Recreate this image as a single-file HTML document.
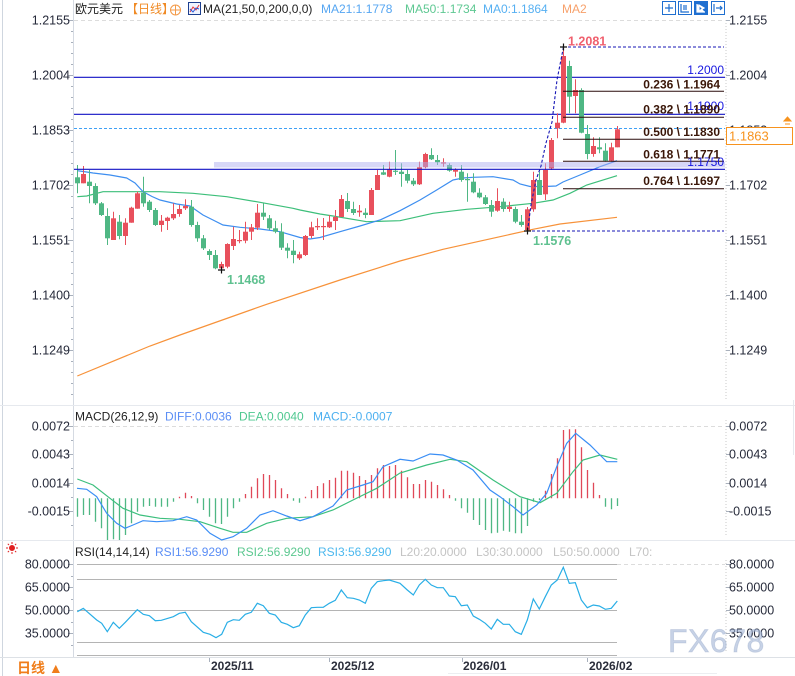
<!DOCTYPE html>
<html><head><meta charset="utf-8"><style>
html,body{margin:0;padding:0;background:#fff;}
svg{display:block;font-family:"Liberation Sans","Noto Sans CJK SC",sans-serif;}
</style></head><body>
<svg width="795" height="676" viewBox="0 0 795 676" xmlns="http://www.w3.org/2000/svg">
<rect width="795" height="676" fill="#fff"/>
<!-- frame lines -->
<line x1="2.5" y1="0" x2="2.5" y2="676" stroke="#cfd6df"/>
<line x1="73.5" y1="0" x2="73.5" y2="657" stroke="#d5dae2"/>
<line x1="0" y1="405.5" x2="795" y2="405.5" stroke="#e6e9ee"/>
<line x1="0" y1="540.5" x2="795" y2="540.5" stroke="#e6e9ee"/>
<line x1="0" y1="657.5" x2="795" y2="657.5" stroke="#dde1e6"/>
<line x1="448" y1="673.5" x2="717" y2="673.5" stroke="#eceef1"/>
<line x1="793.5" y1="400" x2="793.5" y2="455" stroke="#e6e9ee"/>
<!-- right axis dotted -->
<line x1="726" y1="20" x2="726" y2="400" stroke="#c8c8c8" stroke-dasharray="1,2"/>
<line x1="726" y1="420" x2="726" y2="537" stroke="#c8c8c8" stroke-dasharray="1,2"/>
<line x1="726" y1="560" x2="726" y2="652" stroke="#c8c8c8" stroke-dasharray="1,2"/>
<!-- grids -->
<line x1="74" y1="20.5" x2="725" y2="20.5" stroke="#dcdcdc" stroke-dasharray="4,3"/>
<line x1="74" y1="426.5" x2="725" y2="426.5" stroke="#dcdcdc" stroke-dasharray="4,3"/>
<line x1="617" y1="564.5" x2="725" y2="564.5" stroke="#dcdcdc" stroke-dasharray="4,3"/>

<!-- left axis ticks main -->
<g stroke="#a8b0bc" stroke-width="1">
<path d="M68 20.5H73M71 31.5H73M71 42.5H73M71 53.5H73M71 64.5H73M68 75.5H73M71 86.5H73M71 97.5H73M71 108.5H73M71 119.5H73M68 130.5H73M71 141.5H73M71 152.5H73M71 163.5H73M71 174.5H73M68 185.5H73M71 196.5H73M71 207.5H73M71 218.5H73M71 229.5H73M68 240.5H73M71 251.5H73M71 262.5H73M71 273.5H73M71 284.5H73M68 295.5H73M71 306.5H73M71 317.5H73M71 328.5H73M71 339.5H73M68 350.5H73M71 361.5H73M71 372.5H73M71 383.5H73M71 394.5H73"/>
<path d="M68 426.5H73M71 440.5H73M68 454.5H73M71 468.5H73M68 483.5H73M71 497.5H73M68 511.5H73M71 525.5H73"/>
<path d="M68 564.5H73M71 576.5H73M68 587.5H73M71 599.5H73M68 610.5H73M71 622.5H73M68 633.5H73M71 645.5H73"/>
<path d="M726 20.5H730M726 75.5H730M726 130.5H730M726 185.5H730M726 240.5H730M726 295.5H730M726 350.5H730M726 426.5H730M726 454.5H730M726 483.5H730M726 511.5H730M726 564.5H730M726 587.5H730M726 610.5H730M726 633.5H730"/>
<path d="M209.5 658V662M329.5 658V662M462.5 658V662M587.5 658V662"/>
</g>

<!-- axis labels -->
<g font-size="12.5" fill="#262a3a">
<g text-anchor="end">
<text x="70" y="24.5">1.2155</text><text x="70" y="79.5">1.2004</text><text x="70" y="134.5">1.1853</text><text x="70" y="189.5">1.1702</text><text x="70" y="244.5">1.1551</text><text x="70" y="299.5">1.1400</text><text x="70" y="354.5">1.1249</text>
<text x="70" y="430.5">0.0072</text><text x="70" y="458.5">0.0043</text><text x="70" y="487.5">0.0014</text><text x="70" y="515.5">-0.0015</text>
<text x="70" y="568.5">80.0000</text><text x="70" y="591.5">65.0000</text><text x="70" y="614.5">50.0000</text><text x="70" y="637.5">35.0000</text>
</g>
<text x="729" y="24.5">1.2155</text><text x="729" y="79.5">1.2004</text><text x="729" y="134.5">1.1853</text><text x="729" y="189.5">1.1702</text><text x="729" y="244.5">1.1551</text><text x="729" y="299.5">1.1400</text><text x="729" y="354.5">1.1249</text>
<text x="729" y="430.5">0.0072</text><text x="729" y="458.5">0.0043</text><text x="729" y="487.5">0.0014</text><text x="729" y="515.5">-0.0015</text>
<text x="729" y="568.5">80.0000</text><text x="729" y="591.5">65.0000</text><text x="729" y="614.5">50.0000</text><text x="729" y="637.5">35.0000</text>
</g>

<!-- header -->
<g font-size="12">
<text x="75" y="13" fill="#222">欧元美元</text>
<text x="126" y="13" fill="#f08a24">【日线】</text>
<circle cx="175.5" cy="10" r="5" fill="none" stroke="#f39a48" stroke-width="1"/>
<path d="M170.5 10H180.5M175.5 5V15" stroke="#f39a48" stroke-width="1"/>
<rect x="188.5" y="2.5" width="12" height="12" fill="#eef3ff" stroke="#1d3f8f"/>
<polyline points="190,12 193,7 196,10 199,5" fill="none" stroke="#e33" stroke-width="1"/>
<polyline points="190,9 193,12 196,8 199,9" fill="none" stroke="#2a5ad8" stroke-width="1"/>
<text x="203" y="13" fill="#222">MA(21,50,0,200,0,0)</text>
<text x="321" y="13" fill="#56a6f2">MA21:1.1778</text>
<text x="405" y="13" fill="#5ec892">MA50:1.1734</text>
<text x="483" y="13" fill="#56b0f2">MA0:1.1864</text>
<text x="562" y="13" fill="#f7a06a">MA2</text>
</g>
<!-- top-right icons -->
<g stroke="#1f6fd0" fill="#fff">
<rect x="662.5" y="1.5" width="13" height="13"/>
<rect x="678.5" y="1.5" width="13" height="13"/>
<rect x="694.5" y="1.5" width="13" height="13" fill="#1f6fd0"/>
<rect x="711.5" y="1.5" width="13" height="13"/>
</g>
<g stroke="#1f6fd0" stroke-width="1.2" fill="none">
<path d="M665 8H673M669 4V12"/>
<path d="M681 4V12H689M684 5V10M686 5V10"/>
<path d="M714 4V12M716 8H722M720 6L722 8L720 10"/>
</g>
<path d="M697 4V12H705M699 5L704 8L699 11Z" stroke="#fff" stroke-width="1.2" fill="#fff"/>

<!-- MA200 -->
<polyline points="77.3,376 150,346 180,335 266.7,304.3 340,280 400,261 443,249.3 500,236.7 533,229.3 560,224 617,217.3" fill="none" stroke="#f7923a" stroke-width="1.2"/>
<!-- MA50 -->
<polyline points="77.3,196.7 86.7,196 103,191.7 143,191.7 160,191.7 193,193.3 226.7,196.7 260,202.3 293,208.3 300,210 320,214 333,216 366.7,221.7 400,220.7 433,213.3 466.7,209.3 500,206.7 533,203.3 553,200 570,193.3 586.7,185 617,175.7" fill="none" stroke="#3dbf7a" stroke-width="1.2"/>
<!-- MA21 -->
<polyline points="77.3,170.7 86.7,172 93,173 110,175 126.7,178 135,183 143,191.7 152,196.5 160,200 176.7,204 190,206 203,215 213,220 223,225 240,227.3 260,229 280,231.7 300,237.5 310,239 320,237.5 340,231.7 360,226 380,220 400,210.7 420,200 436.7,190 453,180 463,178 473,177.3 493,176.7 513,180 520,184 530,186.5 545,186.5 556,186 563,182 580,175 600,166.7 617,160.7" fill="none" stroke="#3d8ef0" stroke-width="1.2"/>

<!-- horizontal reference lines -->
<line x1="74" y1="128.5" x2="725" y2="128.5" stroke="#3fa0f5" stroke-dasharray="3,2"/>
<line x1="74" y1="77.3" x2="725" y2="77.3" stroke="#1212c4" stroke-width="1.1"/>
<line x1="74" y1="114.3" x2="725" y2="114.3" stroke="#1212c4" stroke-width="1.1"/>

<!-- candles -->
<g stroke="#e8505c" stroke-width="1">
<path d="M83.5 166V183.3M113.5 211.7V240M125.5 218.3V245M131.5 206.7V222.7M137.5 191.7V208.7M161.5 215V231.7M167.5 216.7V230M173.5 203.3V220M179.5 205V216.7M185.5 199.3V210M221.5 261.7V270M227.5 243.3V268.3M233.5 226.7V250M239.5 230V243.3M245.5 221.7V243.3M251.5 224V240M257.5 204V230M299.5 251.7V260M305.5 235V256M311.5 221.7V238.3M317.5 218.3V230M323.5 218V240M329.5 215V228M335.5 210V230M341.5 195V217M359.5 205V216.7M371.5 188V215M377.5 170V190M389.5 161.7V177.3M419.5 161.7V185M425.5 152.7V168.3M443.5 158.3V166.7M455.5 168.3V176.7M497.5 188.3V211.7M509.5 201.7V211.7M527.5 207V231M533.5 171.7V211.7M545.5 163.3V200M551.5 138V170M557.5 113.3V138.3M563.5 46.7V123.3M575.5 79.3V113.3M593.5 137.3V156.7M611.5 142.7V161.7M617.5 126V147.3"/>
</g>
<g fill="#e8505c">
<rect x="81" y="174" width="5" height="9.3"/><rect x="111" y="218.3" width="5" height="21.7"/><rect x="123" y="222.7" width="5" height="13.3"/><rect x="129" y="207.7" width="5" height="15"/><rect x="135" y="193.3" width="5" height="15.4"/><rect x="159" y="220.7" width="5" height="4.3"/><rect x="165" y="217.7" width="5" height="3.3"/><rect x="171" y="214" width="5" height="4.3"/><rect x="177" y="209" width="5" height="5"/><rect x="183" y="206" width="5" height="2.3"/><rect x="219" y="264" width="5" height="4.3"/><rect x="225" y="244" width="5" height="22.7"/><rect x="231" y="239" width="5" height="7"/><rect x="237" y="240" width="5" height="1.2"/><rect x="243" y="231.7" width="5" height="9"/><rect x="249" y="227.3" width="5" height="4.4"/><rect x="255" y="212.7" width="5" height="15"/><rect x="297" y="254.3" width="5" height="4"/><rect x="303" y="236" width="5" height="19"/><rect x="309" y="227.3" width="5" height="8.7"/><rect x="315" y="226" width="5" height="1.3"/><rect x="321" y="226" width="5" height="1.2"/><rect x="327" y="221.7" width="5" height="5.6"/><rect x="333" y="217" width="5" height="4"/><rect x="339" y="199" width="5" height="18"/><rect x="357" y="210.7" width="5" height="1.6"/><rect x="369" y="190" width="5" height="25"/><rect x="375" y="175" width="5" height="15"/><rect x="387" y="169.3" width="5" height="7.4"/><rect x="417" y="167.3" width="5" height="17"/><rect x="423" y="154" width="5" height="13.3"/><rect x="441" y="162.3" width="5" height="1.3"/><rect x="453" y="170" width="5" height="1.7"/><rect x="495" y="201" width="5" height="9.7"/><rect x="507" y="206.7" width="5" height="2.3"/><rect x="525" y="209.3" width="5" height="20.7"/><rect x="531" y="180" width="5" height="29.3"/><rect x="543" y="170" width="5" height="24.3"/><rect x="549" y="140" width="5" height="28.3"/><rect x="555" y="122.7" width="5" height="5.6"/><rect x="561" y="56" width="5" height="66.7"/><rect x="573" y="90" width="5" height="6"/><rect x="591" y="146" width="5" height="8"/><rect x="609" y="147.3" width="5" height="13.4"/><rect x="615" y="129.3" width="5" height="18"/>
</g>
<g stroke="#4fb784" stroke-width="1">
<path d="M77.5 165V193.3M89.5 170V203.3M95.5 183.3V205M101.5 202V216M107.5 208.3V245M119.5 215V239.3M143.5 176.7V206.7M149.5 200V212M155.5 208V226M191.5 200V226.7M197.5 221.7V241.7M203.5 235V250M209.5 249.3V260M215.5 250V269.3M263.5 203.3V220M269.5 215V230M275.5 220.7V233.3M281.5 223.3V250M287.5 243.3V258.3M293.5 240V263.3M347.5 193V212M353.5 201.7V215M365.5 208.3V218.3M383.5 165V175M395.5 150V175M401.5 163.3V186.7M407.5 170V183.3M413.5 178V186M431.5 148.3V160M437.5 155V165M449.5 163.3V171.7M461.5 165V181.7M467.5 173.3V201.7M473.5 173.3V193.3M479.5 188.3V198.3M485.5 195V205M491.5 200V216.7M503.5 198.3V211.7M515.5 206.7V223.3M521.5 215V226.7M539.5 171.7V195M569.5 60.7V113.3M581.5 88.3V133.3M587.5 125V159.3M599.5 137.3V153.3M605.5 143.3V161.7"/>
</g>
<g fill="#4fb784">
<rect x="75" y="177.3" width="5" height="6"/><rect x="87" y="181.7" width="5" height="4.3"/><rect x="93" y="186" width="5" height="17.3"/><rect x="99" y="203.3" width="5" height="11.7"/><rect x="105" y="216" width="5" height="22.3"/><rect x="117" y="221.7" width="5" height="14.3"/><rect x="141" y="192.7" width="5" height="10.6"/><rect x="147" y="201.7" width="5" height="8.3"/><rect x="153" y="210" width="5" height="15"/><rect x="189" y="206.7" width="5" height="18.3"/><rect x="195" y="225" width="5" height="13.3"/><rect x="201" y="238.3" width="5" height="10"/><rect x="207" y="251" width="5" height="4"/><rect x="213" y="255" width="5" height="13.3"/><rect x="261" y="212.7" width="5" height="4"/><rect x="267" y="218.3" width="5" height="10"/><rect x="273" y="228.3" width="5" height="3.4"/><rect x="279" y="231.7" width="5" height="16"/><rect x="285" y="247.7" width="5" height="3"/><rect x="291" y="250.7" width="5" height="4.3"/><rect x="345" y="201" width="5" height="8"/><rect x="351" y="209" width="5" height="4"/><rect x="363" y="212.7" width="5" height="2.3"/><rect x="381" y="172.3" width="5" height="2.4"/><rect x="393" y="170.7" width="5" height="1.2"/><rect x="399" y="171.7" width="5" height="2.3"/><rect x="405" y="174" width="5" height="6.7"/><rect x="411" y="180.7" width="5" height="3.6"/><rect x="429" y="155" width="5" height="4.3"/><rect x="435" y="160" width="5" height="2.3"/><rect x="447" y="165" width="5" height="5.7"/><rect x="459" y="171.7" width="5" height="8.3"/><rect x="465" y="179" width="5" height="1.2"/><rect x="471" y="181.7" width="5" height="10.6"/><rect x="477" y="192.7" width="5" height="4.6"/><rect x="483" y="197.3" width="5" height="6.7"/><rect x="489" y="205" width="5" height="6.7"/><rect x="501" y="201.7" width="5" height="7.3"/><rect x="513" y="209" width="5" height="12.7"/><rect x="519" y="221.7" width="5" height="3.3"/><rect x="537" y="180" width="5" height="15"/><rect x="567" y="66" width="5" height="30.7"/><rect x="579" y="90" width="5" height="42.7"/><rect x="585" y="134" width="5" height="20"/><rect x="597" y="147.3" width="5" height="2"/><rect x="603" y="150.7" width="5" height="10"/>
</g>

<!-- lavender band and 1.1750 line -->
<rect x="214" y="162" width="511" height="5.5" fill="rgba(175,175,240,0.5)"/>
<line x1="74" y1="169.3" x2="725" y2="169.3" stroke="#1212c4" stroke-width="1.1"/>

<!-- fib lines -->
<g stroke="#2a0c0c" stroke-width="1">
<line x1="563" y1="91.3" x2="724" y2="91.3"/>
<line x1="563" y1="117.3" x2="724" y2="117.3"/>
<line x1="563" y1="139.3" x2="724" y2="139.3"/>
<line x1="563" y1="161.3" x2="724" y2="161.3"/>
<line x1="563" y1="188.7" x2="724" y2="188.7"/>
</g>
<g stroke="#1515b5" stroke-width="1.1" stroke-dasharray="3,2" fill="none">
<line x1="563" y1="47" x2="724" y2="47"/>
<line x1="527" y1="231" x2="724" y2="231"/>
<polyline points="527.5,231 531,205 536,180 541,166 546,143 552,122 557,80 563.5,47"/>
</g>
<!-- cross marks -->
<g stroke="#111" stroke-width="1.2">
<path d="M560 47H567M563.5 43.5V50.5"/>
<path d="M524 231H531M527.5 227.5V234.5"/>
<path d="M218 270H225M221.5 266.5V273.5"/>
</g>

<!-- chart labels -->
<g font-size="12.5" font-weight="bold">
<text x="568" y="45.5" fill="#f0606e">1.2081</text>
<text x="227" y="284" fill="#5fc190">1.1468</text>
<text x="533" y="245" fill="#5fc190">1.1576</text>
</g>
<g font-size="12" fill="#1818e0" text-anchor="end">
<text x="724" y="74">1.2000</text>
<text x="724" y="110">1.1900</text>
<text x="724" y="166">1.1750</text>
</g>
<g font-size="12" font-weight="bold" fill="#3a1608" text-anchor="end">
<text x="720" y="88.3">0.236 \ 1.1964</text>
<text x="720" y="113.3">0.382 \ 1.1890</text>
<text x="720" y="136">0.500 \ 1.1830</text>
<text x="720" y="158.3">0.618 \ 1.1771</text>
<text x="720" y="185">0.764 \ 1.1697</text>
</g>

<!-- price box -->
<rect x="726.5" y="127.5" width="66" height="17" fill="#fff" stroke="#f7931e"/>
<text x="729" y="140.5" font-size="13" fill="#f7931e">1.1863</text>
<path d="M784 121L787.5 117L791 121ZM785 124H790" stroke="#f7931e" fill="#f7931e" stroke-width="1"/>

<!-- MACD header -->
<g font-size="12">
<text x="75" y="420.5" fill="#222">MACD(26,12,9)</text>
<text x="165" y="420.5" fill="#5b8ef5">DIFF:0.0036</text>
<text x="239" y="420.5" fill="#4fc890">DEA:0.0040</text>
<text x="313" y="420.5" fill="#4cb0f0">MACD:-0.0007</text>
</g>
<!-- MACD histogram -->
<g stroke="#4fb784" stroke-width="1.3">
<path d="M77.5 498.3V516.7M83.5 498.3V515M89.5 498.3V515M95.5 498.3V521.7M101.5 498.3V528.3M107.5 498.3V540M113.5 498.3V539.3M119.5 498.3V540M125.5 498.3V535M131.5 498.3V523.3M137.5 498.3V511.7M143.5 498.3V506.7M149.5 498.3V506M155.5 498.3V506.7M161.5 498.3V506.7M167.5 498.3V506.7M173.5 498.3V501.7M197.5 498.3V503.3M203.5 498.3V510M209.5 498.3V516.7M215.5 498.3V523.3M221.5 498.3V524M227.5 498.3V516.7M233.5 498.3V508.3M239.5 498.3V501.7M293.5 498.3V500.7M299.5 498.3V502.7M455.5 498.3V500.7M461.5 498.3V508.3M467.5 498.3V512.7M473.5 498.3V520M479.5 498.3V525M485.5 498.3V530M491.5 498.3V533.3M497.5 498.3V532.7M503.5 498.3V530.7M509.5 498.3V531.7M515.5 498.3V533.3M521.5 498.3V533.3M527.5 498.3V526M533.5 498.3V501.7M539.5 498.3V500M605.5 498.3V506.7M611.5 498.3V509.3M617.5 498.3V506"/>
</g>
<g stroke="#e04858" stroke-width="1.3">
<path d="M179.5 498.3V496.7M185.5 498.3V492.7M191.5 498.3V496M245.5 498.3V494M251.5 498.3V486.7M257.5 498.3V478.3M263.5 498.3V474M269.5 498.3V475M275.5 498.3V480M281.5 498.3V488.3M287.5 498.3V494M305.5 498.3V496.7M311.5 498.3V490M317.5 498.3V486M323.5 498.3V483.3M329.5 498.3V480M335.5 498.3V477.7M341.5 498.3V470.7M347.5 498.3V470.7M353.5 498.3V472.7M359.5 498.3V476M365.5 498.3V480M371.5 498.3V475M377.5 498.3V468.3M383.5 498.3V465M389.5 498.3V466M395.5 498.3V465M401.5 498.3V470.7M407.5 498.3V477.3M413.5 498.3V484M419.5 498.3V484M425.5 498.3V480M431.5 498.3V481.7M437.5 498.3V485M443.5 498.3V489.3M449.5 498.3V495M545.5 498.3V490.7M551.5 498.3V474M557.5 498.3V458.3M563.5 498.3V430M569.5 498.3V429.3M575.5 498.3V429.3M581.5 498.3V447.3M587.5 498.3V470M593.5 498.3V482.7M599.5 498.3V495"/>
</g>
<polyline points="77.3,479 93,485 110,498.3 123,508.3 140,515 160,518.3 180,519.3 200,521.7 220,528.3 233,532.3 246.7,532.3 266.7,523.3 286.7,518.3 313,516.7 333,510 353,500 376.7,488.3 400,473 426.7,465 450,459.3 466.7,461.7 493,480 520,496.7 540,502.7 556.7,493.3 573,471.7 583,460 600,455 617.3,459.3" fill="none" stroke="#3cbf7d" stroke-width="1.2"/>
<polyline points="77,488.3 86.7,489.3 96.7,496.7 106.7,513.3 116.7,523.3 125,528.3 133,525 143,520.7 156.7,521.7 173,520.7 186.7,516.7 196.7,520 210,533.3 221.7,540 233,536.7 246.7,528.3 260,515 273,510.7 286.7,516 300,520.7 313,516.7 333,506 346.7,490 363,485 373,481.7 383,466.7 400,459.3 413,461 430,454 443,455 456.7,460 473,470 490,490 500,496.7 513,506.7 523,515 536.7,505 546.7,493.3 556.7,466.7 566.7,443.3 575.7,433.3 590,445 600,455 606.7,461.7 617.3,461.7" fill="none" stroke="#3a8ef5" stroke-width="1.2"/>

<!-- RSI header -->
<g transform="translate(12,548)" stroke="#e02020" stroke-width="1">
<circle cx="0" cy="0" r="2.5" fill="#e02020"/>
<path d="M-6 0H-4M4 0H6M0 -6V-4M0 4V6M-4.2 -4.2L-3 -3M3 3L4.2 4.2M-4.2 4.2L-3 3M3 -3L4.2 -4.2"/>
</g>
<g font-size="12">
<text x="75" y="556" fill="#222">RSI(14,14,14)</text>
<text x="155" y="556" fill="#5b8ef5">RSI1:56.9290</text>
<text x="237" y="556" fill="#5cc890">RSI2:56.9290</text>
<text x="318" y="556" fill="#4cb8ee">RSI3:56.9290</text>
<text x="400" y="556" fill="#c4c4c4">L20:20.0000</text>
<text x="476" y="556" fill="#c4c4c4">L30:30.0000</text>
<text x="553" y="556" fill="#c4c4c4">L50:50.0000</text>
<text x="629" y="556" fill="#c4c4c4">L70:</text>
</g>
<g stroke="#b4b4b4" stroke-width="1">
<line x1="77" y1="564.5" x2="617" y2="564.5"/>
<line x1="77" y1="579.5" x2="617" y2="579.5"/>
<line x1="77" y1="610.5" x2="617" y2="610.5"/>
<line x1="77" y1="642.5" x2="617" y2="642.5"/>
<line x1="77" y1="655.5" x2="617" y2="655.5"/>
</g>
<polyline points="77.3,611.7 83.3,608.3 96.7,620 101.7,623.3 107.3,631.7 113.3,622.3 119.3,628.3 125.3,622.3 137.3,609.7 143.3,614.3 149.3,615.7 155.3,620.7 161.3,620.3 173.3,616.7 179.3,613.3 185.3,612.3 191.3,621.7 203.3,632.3 210,634.3 216,637.7 221.7,634.3 227.3,622.3 233.3,619.7 239.3,620.3 245.3,614.3 251.3,612.3 257.3,603.3 263.3,605.7 269.3,613.3 275.3,615 281.3,622.3 287.3,624.3 293.3,627.7 299.3,625.7 305.3,615 311.3,607.7 317.3,607.3 323.3,607.3 329.3,603.3 335.3,600.3 341.3,590 347.3,597.7 353.3,598.3 359.3,600 365.3,603.3 371.3,588.3 377.3,581.7 383.3,580.7 389.3,580 400,583.3 407.3,590 413.3,595 419.3,585 425.3,579.3 431.3,585 437.3,587.7 443.3,587.7 449.3,596 455.3,596.7 461.3,605.7 467.3,605 473.3,616 479.3,619.3 485.3,623.3 491.3,629 497.3,619.3 503.3,624.3 509.3,624.3 515.3,631.7 521.3,634.3 527.3,620 533.3,599 539.3,609 545.3,596.7 551.3,585 557.3,580 563.3,567.3 569.3,583.3 575.3,582.7 581.3,600 587.3,607.7 593.3,605 599.3,606 605.3,609.3 611.3,608.3 617.3,601" fill="none" stroke="#29aee6" stroke-width="1.2"/>

<!-- watermark -->
<text x="668" y="652" font-size="32" fill="rgba(165,182,214,0.62)" stroke="rgba(140,160,195,0.35)" stroke-width="0.8" letter-spacing="0.5">FX678</text>

<!-- bottom axis -->
<g font-size="12" font-weight="bold" fill="#2a2d3a">
<text x="211" y="670">2025/11</text>
<text x="331" y="670">2025/12</text>
<text x="463" y="670">2026/01</text>
<text x="589" y="670">2026/02</text>
</g>
<text x="17" y="673" font-size="14" font-weight="bold" fill="#f07d1a">日线 ▲</text>
</svg>
</body></html>
